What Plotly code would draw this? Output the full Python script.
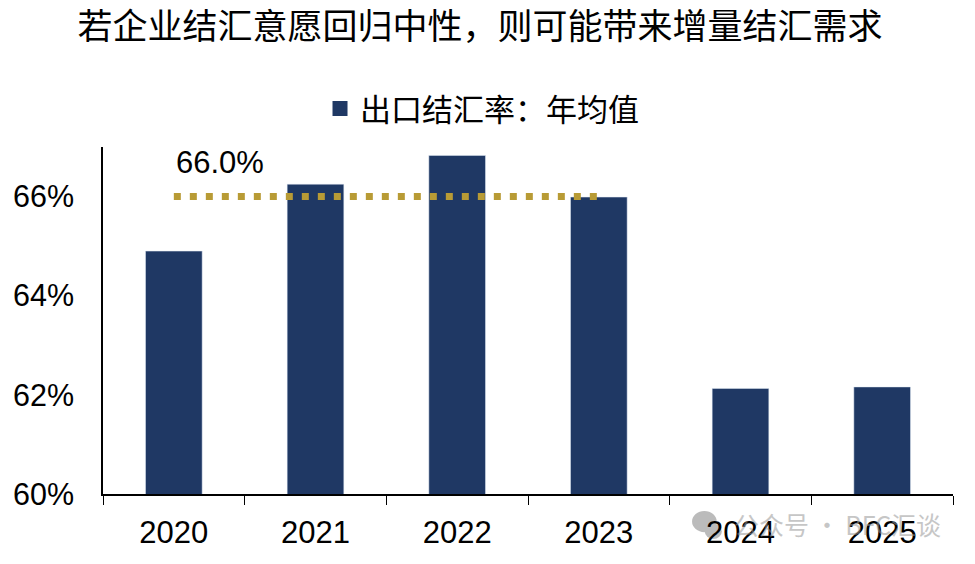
import plotly.graph_objects as go

years = ['2020', '2021', '2022', '2023', '2024', '2025']
rate = [64.9, 66.25, 66.83, 65.99, 62.13, 62.16]
avg_years = ['2020', '2021', '2022', '2023']
avg_rate = [66.0, 66.0, 66.0, 66.0]
y_ticks = [60, 62, 64, 66]
y_labels = ['60%', '62%', '64%', '66%']

cjk = 'Noto Sans CJK SC'
arial = 'Liberation Sans'
navy = '#1f3864'

bar = go.Bar(x=years, y=rate, marker_color=navy, width=0.4, showlegend=False)
avg = go.Scatter(x=avg_years, y=avg_rate, mode='lines', showlegend=False,
                 line=dict(color='#b89b35', width=7, dash='7px,9px'))
# legend swatch is bigger than the default bar one
key = go.Scatter(x=[None], y=[None], mode='markers', name='出口结汇率\uff1a年均值',
                 marker=dict(color=navy, symbol='square', size=15))

layout = go.Layout(
    width=975, height=564, plot_bgcolor='white', paper_bgcolor='white',
    margin=dict(l=95, r=30, t=139, b=78, autoexpand=False),
    title=dict(text='若企业结汇意愿回归中性\uff0c则可能带来增量结汇需求', x=0.484, xanchor='center', y=0.966,
               yanchor='middle', font=dict(family=cjk, size=35, color='black')),
    legend=dict(x=0.4459, xanchor='center', y=1.11, yanchor='middle', itemsizing='trace',
                font=dict(family=cjk, size=31, color='black')),
    xaxis=dict(type='category', categoryorder='array', categoryarray=years, range=[-0.5, 5.5], tickmode='array',
               tickvals=years, ticktext=years, tickangle=0, automargin=False,
               showline=True, linecolor='black', linewidth=1.5, ticks='outside', ticklen=9,
               tickcolor='black', tickson='boundaries', showgrid=False, ticklabelstandoff=10,
               tickfont=dict(family=arial, size=31, color='black')),
    yaxis=dict(range=[60, 67], tickvals=y_ticks, ticktext=y_labels, showline=True, linecolor='black',
               linewidth=1.5, ticks='', showgrid=False, zeroline=False, ticklabelstandoff=21, automargin=False,
               tickfont=dict(family=arial, size=30.5, color='black')),
    annotations=[
        # x is the category index here, '2020' would be read as a number
        dict(x=0, y=66.0, yshift=34, xshift=46, text='66.0%', showarrow=False,
             font=dict(family=arial, size=31, color='black')),
        dict(x=0.988, y=-0.086, xref='paper', yref='paper', xanchor='right', yanchor='middle', showarrow=False,
             text='公众号 · BFC汇谈', opacity=0.55, font=dict(family=cjk, size=25, color='#999999')),
    ],
    shapes=[
        dict(type='circle', xref='paper', yref='paper', x0=0.693, x1=0.722, y0=-0.11, y1=-0.049,
             fillcolor='#bbbbbb', line_width=0, layer='below'),
        dict(type='circle', xref='paper', yref='paper', x0=0.708, x1=0.728, y0=-0.13, y1=-0.086,
             fillcolor='#bbbbbb', line_width=0, layer='below'),
    ],
)

fig = go.Figure(data=[bar, avg, key], layout=layout)
fig.write_html('out.html')
